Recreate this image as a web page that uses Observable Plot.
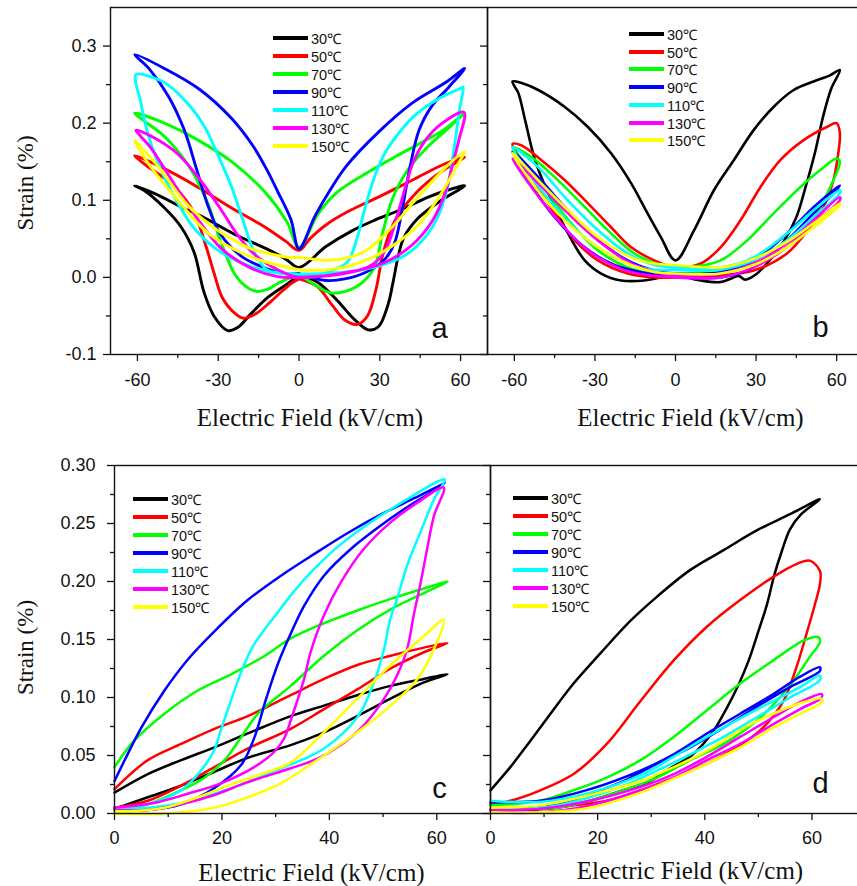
<!DOCTYPE html>
<html>
<head>
<meta charset="utf-8">
<script src="https://cdn.jsdelivr.net/npm/d3@7"></script>
<script src="https://cdn.jsdelivr.net/npm/@observablehq/plot@0.6"></script>
<style>
html, body { margin: 0; padding: 0; background: #fff; }
#wrap { position: relative; width: 857px; height: 886px; overflow: hidden; background: #fff; }
.legend { position: absolute; left: 0; top: 0; font: 14.5px "Liberation Sans", Arial, sans-serif; color: #111; }
.legend .row { position: absolute; height: 18px; white-space: nowrap; display: flex; align-items: center; }
.legend .sw { display: inline-block; width: 35px; height: 4px; margin-right: 3px; }
</style>
</head>
<body>
<div id="wrap"></div>
<script>
// ---------- labels, colours, ticks ----------
const temps = ["30℃", "50℃", "70℃", "90℃", "110℃", "130℃", "150℃"];
const colors = ["#000000", "#ff0000", "#00ff00", "#0000ff", "#00ffff", "#ff00ff", "#ffff00"];
const xTitle = "Electric Field (kV/cm)";
const yTitle = "Strain (%)";
const panelLabels = ["a", "b", "c", "d"];

const abXMajor = [-60, -30, 0, 30, 60];
const abXMinor = [-45, -15, 15, 45];
const abYMajor = [-0.1, 0, 0.1, 0.2, 0.3];
const abYMinor = [-0.05, 0.05, 0.15, 0.25];
const cdXMajor = [0, 20, 40, 60];
const cdXMinor = [10, 30, 50];
const cdYMajor = [0, 0.05, 0.10, 0.15, 0.20, 0.25, 0.30];
const cdYMinor = [0.025, 0.075, 0.125, 0.175, 0.225, 0.275];

// ---------- panel a : bipolar loops [E (kV/cm), strain (%)] ----------
const a30 = [[0,0.003],[6.8,-0.006],[14.2,-0.030],[20.4,-0.054],[25.7,-0.068],[29.5,-0.064],[33,-0.036],[35,-0.005],[37,0.030],[39,0.052],[44,0.076],[52,0.098],[61.5,0.119],
  [55,0.113],[48,0.104],[38,0.088],[28,0.074],[20,0.061],[10,0.040],[0,0.013],
  [-5,0.024],[-12,0.037],[-24,0.056],[-36,0.079],[-43,0.090],[-52,0.106],[-61,0.119],
  [-57.6,0.113],[-50.2,0.091],[-43.9,0.066],[-39,0.033],[-35.3,-0.019],[-31.6,-0.050],[-26.5,-0.069],[-22.8,-0.065],[-17.8,-0.047],[-11.6,-0.026],[-4.2,-0.008],[0,0.003]];
const a50 = [[0,-0.002],[6.8,-0.012],[12.3,-0.036],[17.3,-0.056],[21.7,-0.061],[25.4,-0.050],[28.5,-0.017],[31.5,0.035],[36,0.076],[42.5,0.106],[50,0.130],[55,0.142],[61.5,0.156],
  [54,0.147],[42,0.126],[30,0.105],[18,0.085],[10,0.068],[4,0.050],[0,0.035],
  [-5,0.047],[-13,0.066],[-25.5,0.091],[-38,0.118],[-50,0.141],[-61,0.158],
  [-57,0.146],[-47,0.120],[-39,0.084],[-34.5,0.040],[-31.5,0.005],[-28.5,-0.026],[-24,-0.046],[-20.5,-0.053],[-16,-0.047],[-11,-0.033],[-6,-0.017],[-2.5,-0.007],[0,-0.002]];
const a70 = [[0,0.005],[6,-0.010],[11.8,-0.020],[17.3,-0.018],[23,-0.008],[28,0.013],[31,0.057],[34.7,0.102],[40.3,0.139],[48,0.170],[55,0.192],[61.5,0.213],
  [54,0.192],[46,0.176],[36,0.157],[24,0.133],[14,0.110],[7,0.082],[0,0.039],
  [-4.5,0.072],[-12.5,0.110],[-25,0.150],[-37.5,0.178],[-50,0.200],[-61,0.213],
  [-56,0.199],[-51,0.186],[-46,0.168],[-41.4,0.147],[-36.4,0.116],[-33,0.088],[-30,0.055],[-27,0.028],[-24,0.005],[-20,-0.011],[-16,-0.018],[-12,-0.016],[-7.9,-0.008],[-3,0.0],[0,0.005]];
const a90 = [[0,0.005],[10,-0.004],[17,-0.002],[25,0.007],[32,0.024],[35.5,0.045],[38,0.082],[41,0.139],[44.6,0.191],[49.5,0.223],[55.7,0.247],[61.5,0.271],
  [55,0.254],[42,0.226],[30,0.190],[17.5,0.144],[11.5,0.113],[6,0.080],[0,0.037],
  [-3,0.075],[-8,0.112],[-12,0.140],[-17,0.170],[-25,0.206],[-37,0.244],[-50,0.271],[-61,0.289],
  [-56,0.272],[-48.5,0.235],[-42.7,0.192],[-38,0.140],[-34,0.095],[-29.5,0.058],[-21.6,0.028],[-12.5,0.012],[-5.5,0.005],[0,0.005]];
const a110 = [[0,0.004],[8,0.004],[13,0.010],[18,0.020],[21.5,0.050],[24.5,0.090],[28,0.130],[32,0.162],[36.6,0.185],[43,0.210],[52,0.232],[60.5,0.246],[61,0.247],
  [59.5,0.215],[57.5,0.165],[55,0.115],[51.5,0.078],[47.5,0.055],[40,0.030],[30,0.015],[20,0.008],[10,0.005],[0,0.004],
  [-6,0.005],[-12,0.010],[-16.6,0.033],[-21,0.076],[-25,0.117],[-30,0.158],[-35,0.195],[-40,0.220],[-48.8,0.250],[-55,0.260],[-60.5,0.263],
  [-58.7,0.226],[-56.2,0.187],[-52.5,0.150],[-47.5,0.112],[-39,0.064],[-30,0.035],[-20,0.017],[-11.5,0.008],[-3,0.005],[0,0.004]];
const a130 = [[0,0.0],[15,0.004],[26,0.014],[30,0.025],[33,0.042],[36.5,0.080],[39.5,0.117],[42.5,0.150],[47,0.178],[52.5,0.198],[61.3,0.214],
  [59.5,0.180],[57.3,0.150],[54.5,0.112],[49.5,0.073],[42,0.042],[31,0.018],[17,0.006],[0,0.0],
  [-7.9,0.010],[-16.6,0.030],[-22.8,0.055],[-29,0.088],[-36.4,0.125],[-45,0.160],[-53.8,0.181],[-60.5,0.191],
  [-55,0.168],[-47.6,0.128],[-38.9,0.082],[-29,0.038],[-17.8,0.012],[-7.9,0.001],[0,0.0]];
const a150 = [[0,0.010],[11.6,0.010],[24,0.021],[36.4,0.045],[45.1,0.071],[52.5,0.107],[58.7,0.145],[61.5,0.163],
  [55.1,0.145],[48.8,0.122],[42.6,0.098],[36.4,0.072],[30.2,0.050],[24,0.033],[11.6,0.022],[0,0.026],
  [-4,0.026],[-10,0.030],[-17.8,0.037],[-24,0.048],[-30.2,0.061],[-41.4,0.094],[-51.5,0.140],[-61,0.178],
  [-56,0.148],[-45,0.100],[-33,0.055],[-20.3,0.030],[-10.4,0.018],[0,0.010]];

// ---------- panel b ----------
const b30 = [[0,0.005],[4.4,0.0],[9.4,-0.004],[16.8,-0.006],[21,-0.001],[23.5,0.002],[26,-0.003],[30,0.004],[34,0.018],[40,0.045],[45,0.078],[48.5,0.118],[51.8,0.160],[55.2,0.212],[58,0.245],[61.2,0.269],
  [57.5,0.262],[51.4,0.254],[44,0.243],[36.5,0.221],[29.1,0.191],[21.7,0.152],[14.3,0.113],[6.9,0.061],[0,0.022],
  [-5.4,0.052],[-10.4,0.083],[-16.5,0.122],[-24,0.161],[-32.6,0.195],[-41.2,0.221],[-51.1,0.243],[-57.3,0.252],[-60.7,0.254],
  [-58.5,0.239],[-56,0.204],[-52.3,0.152],[-47.4,0.109],[-41.2,0.065],[-33.8,0.022],[-27.7,0.005],[-20.2,-0.004],[-11.6,-0.004],[-5.4,0.0],[0,0.005]];
const b50 = [[0,0.0],[16.8,0.003],[29.1,0.009],[41.5,0.031],[50.1,0.065],[55.1,0.091],[58.8,0.126],[60.6,0.161],[61.2,0.187],[60,0.200],
  [56.3,0.195],[47.7,0.178],[39,0.152],[31.6,0.117],[24.2,0.074],[16.8,0.039],[9.4,0.018],[0,0.013],
  [-7.9,0.022],[-16.5,0.039],[-24,0.065],[-32.6,0.096],[-41.2,0.126],[-49.9,0.152],[-57.3,0.171],[-60.7,0.173],
  [-57.3,0.152],[-51.1,0.117],[-45,0.083],[-37.5,0.048],[-28.9,0.022],[-17.8,0.005],[-7.9,0.0],[0,0.0]];
const b70 = [[0,0.005],[16.8,0.007],[29.1,0.018],[41.5,0.039],[48.9,0.065],[53.8,0.091],[58.8,0.126],[61.2,0.150],[60,0.154],
  [53.8,0.139],[46.4,0.117],[36.5,0.083],[26.7,0.048],[16.8,0.022],[7,0.014],[0,0.014],
  [-5.4,0.016],[-15.3,0.031],[-25.2,0.061],[-35.1,0.096],[-45,0.130],[-53.6,0.156],[-60.7,0.169],
  [-54.8,0.143],[-47.4,0.109],[-38.8,0.070],[-28.9,0.035],[-17.8,0.013],[-7.9,0.005],[0,0.005]];
const b90 = [[0,0.001],[16.8,0.0],[29.1,0.013],[41.5,0.048],[51.4,0.083],[58.8,0.109],[61.2,0.119],
  [58.8,0.113],[51.4,0.091],[41.5,0.057],[29.1,0.022],[16.8,0.007],[0,0.005],
  [-7.9,0.009],[-17.8,0.022],[-30.1,0.052],[-41.2,0.091],[-51.1,0.130],[-60.7,0.163],
  [-54.8,0.126],[-45,0.078],[-33.8,0.039],[-22.7,0.016],[-10.4,0.005],[0,0.001]];
const b110 = [[0,0.010],[16.8,0.010],[29.1,0.022],[41.5,0.048],[51.4,0.078],[61.2,0.109],
  [61.2,0.113],[51.4,0.087],[41.5,0.057],[29.1,0.026],[16.8,0.013],[0,0.013],
  [-7.9,0.016],[-17.8,0.031],[-30.1,0.065],[-41.2,0.104],[-51.1,0.143],[-60.7,0.169],
  [-53.6,0.130],[-43.7,0.087],[-32.6,0.048],[-20.2,0.022],[-10.4,0.011],[0,0.010]];
const b130 = [[0,0.0],[16.8,0.0],[29.1,0.013],[41.5,0.039],[51.4,0.070],[61.2,0.100],
  [61.2,0.104],[51.4,0.074],[41.5,0.044],[29.1,0.018],[16.8,0.005],[0,0.003],
  [-7.9,0.007],[-16.5,0.018],[-28.9,0.048],[-40,0.083],[-51.1,0.122],[-60.7,0.154],
  [-53.6,0.117],[-43.7,0.074],[-32.6,0.035],[-20.2,0.011],[-10.4,0.003],[0,0.0]];
const b150 = [[0,0.005],[16.8,0.005],[29.1,0.016],[41.5,0.039],[51.4,0.065],[61.2,0.094],
  [61.2,0.096],[51.4,0.070],[41.5,0.046],[29.1,0.024],[16.8,0.013],[0,0.016],
  [-7.9,0.018],[-16.5,0.026],[-28.9,0.052],[-40,0.087],[-51.1,0.126],[-60.7,0.161],
  [-52.3,0.117],[-41.2,0.074],[-28.9,0.039],[-16.5,0.016],[-7.9,0.007],[0,0.005]];

// ---------- panel c : unipolar loops ----------
const c30 = [[0,0.004],[6.2,0.014],[12.4,0.024],[18.6,0.036],[24.8,0.048],[32.8,0.059],[39,0.070],[45.2,0.084],[51.4,0.099],[57.6,0.113],[62,0.120],
  [57.6,0.116],[51.4,0.110],[45.2,0.102],[39,0.093],[32.8,0.084],[24.8,0.069],[18.6,0.057],[12.4,0.046],[6.2,0.034],[0,0.018]];
const c50 = [[0,0.005],[6.2,0.011],[12.4,0.024],[18.6,0.040],[24.8,0.056],[32.8,0.073],[39,0.090],[45.2,0.107],[51.4,0.125],[57.6,0.139],[62,0.147],
  [57.6,0.143],[51.4,0.136],[45.2,0.128],[39,0.116],[32.8,0.102],[24.8,0.084],[18.6,0.073],[12.4,0.060],[6.2,0.046],[0,0.021]];
const c70 = [[0,0.003],[6.2,0.008],[12.4,0.020],[16.8,0.031],[20.5,0.046],[23.6,0.066],[26.7,0.086],[32.8,0.110],[39,0.136],[45.2,0.158],[51.4,0.176],[57.6,0.190],[62,0.200],
  [57.6,0.194],[51.4,0.185],[45.2,0.175],[39,0.164],[32.8,0.151],[28,0.136],[21.7,0.120],[15.5,0.106],[9.3,0.086],[3.7,0.063],[0,0.040]];
const c90 = [[0,0.003],[6.2,0.003],[12.4,0.008],[18.6,0.022],[23.6,0.042],[26,0.065],[28.3,0.100],[30.5,0.130],[32.8,0.155],[35.3,0.179],[39,0.205],[44,0.228],[49.5,0.248],[55.1,0.266],[60.1,0.280],[61.5,0.285],
  [60.7,0.283],[55.9,0.272],[49.7,0.258],[43.5,0.242],[37.3,0.224],[31,0.205],[24.8,0.184],[18.6,0.157],[13.7,0.133],[9.3,0.106],[5,0.074],[1.9,0.046],[0,0.028]];
const c110 = [[0,0.004],[6.2,0.008],[12.4,0.020],[16.1,0.037],[18.6,0.055],[19.8,0.072],[21.5,0.095],[23.5,0.121],[25.5,0.142],[27.8,0.158],[30.5,0.174],[33.5,0.192],[37,0.210],[42.1,0.232],[48.3,0.253],[54.5,0.271],[60.1,0.286],[61.5,0.288],
  [59.5,0.271],[57,0.243],[54.5,0.214],[52.6,0.185],[51.2,0.165],[50.2,0.142],[48.3,0.113],[45.8,0.087],[42.7,0.070],[39,0.056],[35.3,0.047],[31,0.039],[24.8,0.027],[18.6,0.017],[12.4,0.009],[6.2,0.005],[0,0.004]];
const c130 = [[0,0.005],[7.3,0.009],[13.6,0.017],[19.8,0.026],[26,0.040],[29.5,0.052],[31.5,0.064],[33,0.083],[35.3,0.116],[36.5,0.139],[39,0.171],[42.1,0.199],[46.4,0.228],[51.4,0.251],[56.4,0.268],[61.3,0.281],
  [59.5,0.257],[58.2,0.228],[57,0.199],[55.7,0.171],[54.5,0.142],[52.6,0.119],[50.2,0.099],[46.4,0.076],[42.1,0.059],[37.7,0.047],[32.8,0.039],[24.8,0.027],[18.6,0.016],[12.4,0.008],[6.2,0.003],[0,0.003]];
const c150 = [[0,0.0],[9.3,0.0],[18.6,0.005],[24.8,0.014],[31,0.026],[32.8,0.031],[39,0.050],[45.2,0.070],[51.4,0.093],[56.4,0.116],[59.5,0.142],[61.3,0.167],
  [57.6,0.153],[51.4,0.128],[45.2,0.099],[39,0.070],[32.8,0.044],[28,0.035],[21.7,0.025],[15.5,0.014],[9.3,0.005],[3.1,0.002],[0,0.002]];

// ---------- panel d ----------
const d30 = [[0,0.020],[3.7,0.040],[7.5,0.063],[11.2,0.086],[15.5,0.112],[20.5,0.138],[26.1,0.166],[31.1,0.187],[37.3,0.210],[43.5,0.227],[49.7,0.244],[55.9,0.258],[61.5,0.271],
  [58,0.258],[55.9,0.245],[54.3,0.225],[53,0.206],[51.6,0.180],[50,0.157],[48.2,0.132],[46.3,0.111],[44,0.090],[41.3,0.069],[37.5,0.050],[33.5,0.039],[29.8,0.028],[24.8,0.020],[18.6,0.011],[12.4,0.005],[6.2,0.003],[0,0.003]];
const d50 = [[0,0.008],[3.7,0.011],[9.3,0.020],[15.5,0.034],[21.7,0.060],[28,0.097],[34.2,0.132],[40.4,0.161],[46.6,0.184],[52.8,0.204],[57.1,0.215],[59.6,0.218],[61.5,0.209],[61.5,0.198],
  [60.6,0.181],[59,0.155],[57.1,0.126],[54.7,0.097],[50.9,0.074],[46,0.057],[40.4,0.043],[34.2,0.031],[28,0.020],[21.7,0.011],[15.5,0.007],[9.3,0.004],[0,0.003]];
const d70 = [[0,0.007],[9.3,0.011],[15.5,0.020],[21.7,0.031],[28,0.046],[34.2,0.066],[40.4,0.089],[46.6,0.112],[52.8,0.132],[58.4,0.149],[61.2,0.152],[61.5,0.148],
  [59.6,0.135],[57.1,0.118],[54,0.100],[49.7,0.080],[43.5,0.060],[37.3,0.046],[31.1,0.031],[24.8,0.020],[18.6,0.011],[12.4,0.005],[6.2,0.004],[0,0.004]];
const d90 = [[0,0.010],[9.3,0.011],[18.6,0.021],[28,0.037],[34.2,0.051],[40.4,0.069],[46.6,0.086],[52.8,0.103],[57.8,0.118],[61.5,0.126],
  [61.5,0.123],[55.9,0.109],[49.7,0.092],[43.5,0.074],[37.3,0.057],[31.1,0.043],[24.8,0.028],[18.6,0.017],[12.4,0.008],[6.2,0.004],[0,0.004]];
const d110 = [[0,0.011],[9.3,0.010],[18.6,0.018],[28,0.033],[34.2,0.049],[40.4,0.066],[46.6,0.082],[52.8,0.097],[57.8,0.109],[61.5,0.119],
  [61.5,0.115],[55.9,0.100],[49.7,0.083],[43.5,0.066],[37.3,0.051],[31.1,0.037],[24.8,0.024],[18.6,0.014],[12.4,0.007],[6.2,0.004],[0,0.004]];
const d130 = [[0,0.003],[9.3,0.004],[18.6,0.011],[28,0.023],[34.2,0.034],[40.4,0.049],[46.6,0.066],[52.8,0.083],[57.8,0.096],[61.8,0.103],
  [61.8,0.100],[57.8,0.090],[52.8,0.077],[46.6,0.060],[40.4,0.046],[34.2,0.031],[28,0.020],[18.6,0.007],[9.3,0.001],[0,0.001]];
const d150 = [[0,0.005],[9.3,0.007],[18.6,0.016],[28,0.028],[34.2,0.040],[40.4,0.054],[46.6,0.072],[52.8,0.086],[57.8,0.095],[61.8,0.099],
  [61.8,0.096],[57.8,0.086],[52.8,0.074],[46.6,0.057],[40.4,0.043],[34.2,0.030],[28,0.018],[18.6,0.005],[9.3,0.001],[0,0.001]];

// ---------- drawing ----------
const wrap = document.getElementById("wrap");
const SANS = "Liberation Sans, Arial, Helvetica, sans-serif";
const SERIF = "Liberation Serif, Times New Roman, serif";

function makePanel(o) {
  const marks = [];
  o.curves.forEach((c, i) => marks.push(Plot.line(c, {
    x: d => d[0], y: d => d[1], stroke: colors[i], strokeWidth: o.sw,
    curve: "catmull-rom", strokeLinejoin: "round", strokeLinecap: "round"
  })));
  marks.push(Plot.frame({stroke: "#111", strokeWidth: 1.4}));
  marks.push(Plot.axisX({ticks: o.xMajor, tickSize: 7, tickPadding: o.xPad, tickFormat: d => String(d), strokeWidth: 1.3, label: null}));
  marks.push(Plot.axisX({ticks: o.xMinor, tickSize: 4, tickFormat: () => "", strokeWidth: 1.3, label: null}));
  marks.push(Plot.axisY({ticks: o.yMajor, tickSize: 7, tickPadding: o.yPad, tickFormat: o.yFmt ? o.yFmt : () => "", strokeWidth: 1.3, label: null}));
  marks.push(Plot.axisY({ticks: o.yMinor, tickSize: 4, tickFormat: () => "", strokeWidth: 1.3, label: null}));
  marks.push(Plot.text([xTitle], {text: d => d, frameAnchor: "bottom", dx: o.xtDx, dy: o.xtDy,
    textAnchor: "middle", lineAnchor: "middle", fontSize: 25, fontFamily: SERIF, fill: "#111"}));
  if (o.showYTitle) marks.push(Plot.text([yTitle], {text: d => d, frameAnchor: "left", rotate: -90,
    dx: o.ytDx, dy: o.ytDy, textAnchor: "middle", lineAnchor: "middle", fontSize: 23, fontFamily: SERIF, fill: "#111"}));
  marks.push(Plot.text([o.label], {text: d => d, frameAnchor: "bottom-right", dx: o.lDx, dy: o.lDy,
    textAnchor: "middle", lineAnchor: "middle", fontSize: 29, fontFamily: SANS, fill: "#111"}));
  const svg = Plot.plot({
    width: o.width, height: o.height,
    marginLeft: o.marginLeft, marginRight: 0, marginTop: o.marginTop, marginBottom: o.marginBottom,
    x: {domain: o.xDomain}, y: {domain: o.yDomain},
    style: {background: "transparent", fontFamily: SANS, fontSize: "18px", color: "#111", overflow: "visible"},
    marks
  });
  svg.style.position = "absolute";
  svg.style.left = o.left + "px";
  svg.style.top = o.top + "px";
  wrap.appendChild(svg);
}

function makeLegend(x, y0, sp) {
  const div = document.createElement("div");
  div.className = "legend";
  temps.forEach((t, i) => {
    const row = document.createElement("div");
    row.className = "row";
    row.style.left = x + "px";
    row.style.top = (y0 + i * sp - 9) + "px";
    const sw = document.createElement("span");
    sw.className = "sw";
    sw.style.background = colors[i];
    const tx = document.createElement("span");
    tx.textContent = t;
    row.appendChild(sw);
    row.appendChild(tx);
    div.appendChild(row);
  });
  wrap.appendChild(div);
}

makePanel({curves: [a30, a50, a70, a90, a110, a130, a150], left: 0, top: 0, width: 487, height: 440,
  marginLeft: 110, marginTop: 7, marginBottom: 86, xDomain: [-70, 70], yDomain: [-0.1, 0.35],
  xMajor: abXMajor, xMinor: abXMinor, yMajor: abYMajor, yMinor: abYMinor, yFmt: d => d.toFixed(1),
  xPad: 12, yPad: 7, sw: 2.9, xtDx: 11, xtDy: 63, showYTitle: true, ytDx: -85, ytDy: 2,
  label: panelLabels[0], lDx: -48, lDy: -26});
makePanel({curves: [b30, b50, b70, b90, b110, b130, b150], left: 477, top: 0, width: 386, height: 440,
  marginLeft: 10, marginTop: 7, marginBottom: 86, xDomain: [-70, 70], yDomain: [-0.1, 0.35],
  xMajor: abXMajor, xMinor: abXMinor, yMajor: abYMajor, yMinor: abYMinor, yFmt: null,
  xPad: 12, yPad: 7, sw: 2.6, xtDx: 15, xtDy: 63, showYTitle: false,
  label: panelLabels[1], lDx: -43, lDy: -27});
makePanel({curves: [c30, c50, c70, c90, c110, c130, c150], left: 0, top: 440, width: 490, height: 446,
  marginLeft: 114, marginTop: 25, marginBottom: 73, xDomain: [0, 70], yDomain: [0, 0.30],
  xMajor: cdXMajor, xMinor: cdXMinor, yMajor: cdYMajor, yMinor: cdYMinor, yFmt: d => d.toFixed(2),
  xPad: 11, yPad: 12, sw: 2.5, xtDx: 9, xtDy: 59, showYTitle: true, ytDx: -89, ytDy: 8,
  label: panelLabels[2], lDx: -51, lDy: -25});
makePanel({curves: [d30, d50, d70, d90, d110, d130, d150], left: 480, top: 440, width: 385, height: 446,
  marginLeft: 10, marginTop: 25, marginBottom: 73, xDomain: [0, 70], yDomain: [0, 0.30],
  xMajor: cdXMajor, xMinor: cdXMinor, yMajor: cdYMajor, yMinor: cdYMinor, yFmt: null,
  xPad: 11, yPad: 12, sw: 2.5, xtDx: 12, xtDy: 57, showYTitle: false,
  label: panelLabels[3], lDx: -45, lDy: -30});

makeLegend(273, 37.5, 18);
makeLegend(629, 34, 17.7);
makeLegend(133, 499, 18);
makeLegend(513, 497.5, 18);
</script>
</body>
</html>
